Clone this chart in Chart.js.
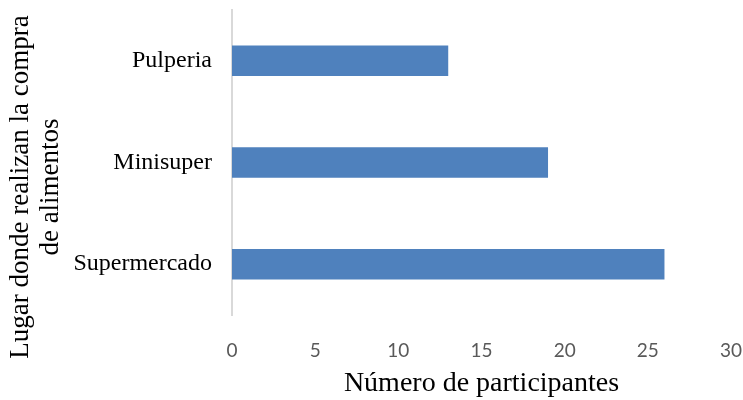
<!DOCTYPE html>
<html>
<head>
<meta charset="utf-8">
<script src="https://cdn.jsdelivr.net/npm/chart.js@4"></script>
<style>
  body { margin: 0; background: #fff; }
  #wrap { width: 743px; height: 400px; }
</style>
</head>
<body>
<div id="wrap"><canvas id="barChart" width="743" height="400"></canvas></div>
<script>
var lugares = ["Pulperia", "Minisuper", "Supermercado"];
var participantes = [13, 19, 26];
var xTicks = [0, 5, 10, 15, 20, 25, 30];
var yTitle = ["Lugar donde realizan la compra", "de alimentos"];

var serif = "'Liberation Serif', 'Times New Roman', serif";

// y title drawn by hand: Excel centres it a bit lower than the plot area
var yTitlePlugin = {
  id: 'yTitle',
  afterDraw: function (chart) {
    var c = chart.ctx;
    c.save();
    c.fillStyle = "#000";
    c.font = "27px " + serif;
    c.textAlign = "center";
    c.textBaseline = "alphabetic";
    yTitle.forEach(function (line, i) {
      c.save();
      c.translate(28 + i * 30, 187);
      c.rotate(-Math.PI / 2);
      c.fillText(line, 0, 0);
      c.restore();
    });
    c.restore();
  }
};

var ctx = document.getElementById("barChart");

var barChart = new Chart(ctx, {
  type: 'bar',
  data: {
    labels: lugares,
    datasets: [{
      label: "Número de participantes",
      data: participantes,
      backgroundColor: "#4f81bd",
      borderWidth: 0,
      barPercentage: 0.6,
      categoryPercentage: 0.5
    }]
  },
  options: {
    indexAxis: 'y',
    responsive: false,
    animation: false,
    layout: { padding: { top: 10, right: 12, left: 0, bottom: 0 } },
    plugins: {
      legend: { display: false },
      tooltip: { enabled: false }
    },
    scales: {
      x: {
        min: xTicks[0],
        max: xTicks[xTicks.length - 1],
        afterBuildTicks: function (axis) {
          axis.ticks = xTicks.map(function (v) { return { value: v }; });
        },
        afterFit: function (axis) {
          axis.height = 85;
          axis.paddingLeft = 0;
          axis.paddingRight = 0;
        },
        grid: { display: false },
        border: { display: false },
        ticks: {
          color: "#595959",
          padding: 16,
          font: { family: "Lato, 'Open Sans', sans-serif", size: 19 }
        },
        title: {
          display: true,
          text: "Número de participantes",
          color: "#000",
          padding: { top: 2, bottom: 0 },
          font: { family: serif, size: 28 }
        }
      },
      y: {
        afterFit: function (axis) {
          axis.width = 232;
          axis.paddingTop = 0;
          axis.paddingBottom = 0;
        },
        grid: { display: false, drawTicks: false },
        border: { display: true, color: "#d9d9d9", width: 2 },
        ticks: {
          color: "#000",
          padding: 20,
          font: { family: serif, size: 24 }
        }
      }
    }
  },
  plugins: [yTitlePlugin]
});
</script>
</body>
</html>
